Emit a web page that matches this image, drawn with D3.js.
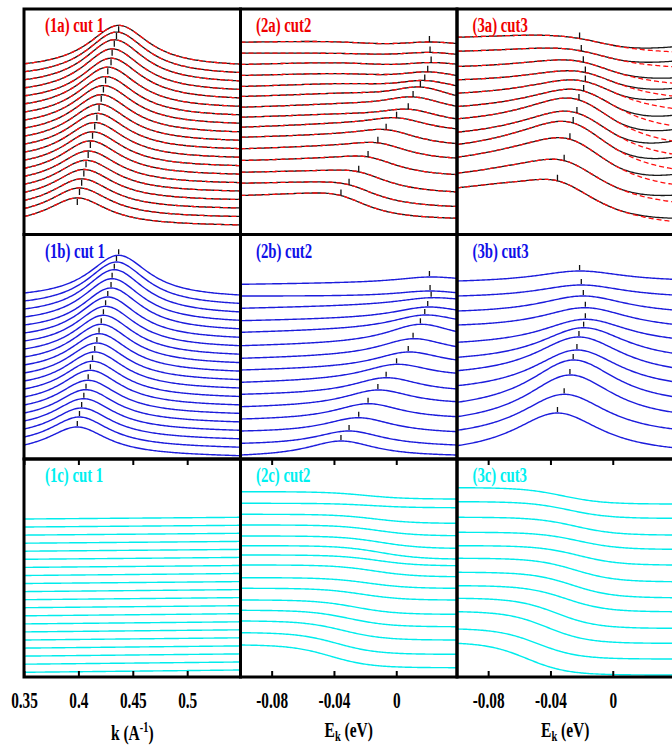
<!DOCTYPE html>
<html>
<head>
<meta charset="utf-8">
<script src="https://cdn.jsdelivr.net/npm/d3@7"></script>
<style>
  html, body { margin: 0; padding: 0; background: #fff; }
  svg { display: block; }
</style>
</head>
<body>
<svg id="chart" width="672" height="747"></svg>
<script>
// ---------------- data (bottom curve first in every array) ----------------
// fitted peak positions: k in 1/A for cut 1, E_k in eV for cuts 2 and 3
const cut1Peak = [0.399, 0.401, 0.403, 0.405, 0.407, 0.409, 0.411, 0.413, 0.415, 0.417, 0.419, 0.421, 0.423, 0.425, 0.427, 0.430, 0.431, 0.433, 0.435, 0.437];
const cut2Peak = [-0.0355, -0.0303, -0.0241, -0.0181, -0.0118, -0.0065, 0.0002, 0.0077, 0.0108, 0.0155, 0.0183, 0.0202, 0.0224, 0.0217, 0.0213];
const cut3Peak = [-0.0355, -0.0312, -0.0275, -0.0254, -0.0230, -0.0217, -0.0187, -0.0176, -0.0176, -0.0189, -0.0202, -0.0213];

// peak component (offset stack): intensity at the low edge, at the peak, at the high edge
const cut1CompLow  = [14, 22, 30, 38, 46, 54, 62, 70, 78, 86, 94, 102, 110, 118, 126, 134, 142, 150, 158, 166];
const cut1CompPeak = [32, 42, 51, 60.3, 69.3, 78.7, 88.7, 97.7, 107, 116, 125.3, 134.7, 143.7, 152.7, 162, 171, 180.3, 189.3, 197, 203.7];
const cut1CompHigh = [3.3, 11.8, 20.2, 28.7, 37.1, 45.6, 54.1, 62.5, 71, 79.4, 87.9, 96.4, 104.8, 113.3, 121.7, 130.2, 138.7, 147.1, 155.6, 164];

const cut2CompLow  = [4, 15.7, 28, 40, 52.3, 64.7, 76.7, 89, 100.7, 113.3, 126.7, 138.3, 150.7, 163, 174.7];
const cut2CompPeak = [18, 28, 41.3, 55.3, 69, 81.3, 94.7, 107, 120.3, 134.7, 144, 152, 161.3, 168, 182];
const cut2CompHigh = [4, 14, 27.3, 42.3, 57.3, 70, 85.7, 99, 112.3, 127.3, 139.7, 149, 160, 166.3, 180.7];

const cut3CompLow  = [13.3, 28.7, 42.3, 56.7, 73.3, 88.3, 101.7, 116.7, 134, 148, 163, 178];
const cut3CompPeak = [46, 64.7, 84, 99, 109, 122, 131.3, 139.7, 151.3, 163, 174, 188];
const cut3CompHigh = [11.3, 30, 46.7, 62.3, 77.3, 91.3, 105.7, 120.7, 134.7, 149, 164, 179.7];

// background component (offset stack): intensity at the low and high edges
const cut1BgLow  = [4.7, 12.8, 20.9, 28.9, 37, 45.1, 53.1, 61.2, 69.3, 77.3, 85.4, 93.5, 101.5, 109.6, 117.7, 125.8, 133.8, 141.9, 150, 158];
const cut1BgHigh = [7, 15, 23.1, 31.1, 39.2, 47.2, 55.2, 63.3, 71.3, 79.4, 87.4, 95.4, 103.5, 111.5, 119.6, 127.6, 135.6, 143.7, 151.7, 159.7];

const cut2BgLow  = [32, 44.3, 56, 66.7, 77, 88.7, 99.3, 112, 122, 131.3, 141, 152, 162.7, 173.7, 185.3];
const cut2BgHigh = [9.3, 22.7, 37, 50.3, 62.7, 77, 88.7, 100.3, 111.3, 118, 128.7, 141.3, 153.7, 169.3, 178];
// energy where each background step falls
const cut2BgEdge = [-0.042, -0.038, -0.034, -0.030, -0.026, -0.022, -0.018, -0.014, -0.012, -0.010, -0.010, -0.012, -0.014, -0.016, -0.020];

const cut3BgLow  = [33.7, 48, 65.3, 78.7, 91.3, 104.7, 118.7, 131.3, 144.7, 159.7, 175.3, 189.3];
const cut3BgHigh = [2, 18, 33.7, 48.7, 65.3, 79.3, 95.3, 112, 127.7, 142, 158.7, 173];
const cut3BgEdge = [-0.055, -0.048, -0.042, -0.036, -0.030, -0.026, -0.024, -0.022, -0.022, -0.024, -0.028, -0.032];

// full fit (offset stack): intensity at the low edge
const cut1FitLow = [18, 26, 34.1, 42.1, 50.2, 58.2, 66.2, 74.3, 82.3, 90.4, 98.4, 106.4, 114.5, 122.5, 130.6, 138.6, 146.6, 154.7, 162.7, 170.7];
const cut2FitLow = [39, 51.3, 62.3, 74, 85.7, 97.3, 107.3, 117.3, 127.3, 138, 148, 159, 170, 181.3, 192.3];
const cut3FitLow = [46.7, 61.3, 77.3, 90, 102.3, 115.7, 128, 141.3, 154.7, 168, 183.3, 197.3];

// cut 3 data above the fit at the high-energy edge
const cut3DataExcess = [3.3, 6.7, 10, 11.7, 13.3, 11.7, 10.7, 10.7, 7.7, 5.3, 5.7, 5];

// axis ticks
const kTicks = [0.35, 0.4, 0.45, 0.5];
const eTicks = [-0.08, -0.04, 0];

// panel titles, [cut][row]
const panelTitles = [
  ["(1a) cut 1", "(1b) cut 1", "(1c) cut 1"],
  ["(2a) cut2", "(2b) cut2", "(2c) cut2"],
  ["(3a) cut3", "(3b) cut3", "(3c) cut3"]
];

// ---------------- layout ----------------
const colX = [24, 240.5, 457, 673.5];
const rowY = [9, 234.5, 459, 677];
const titleColors = ["#f00000", "#1010e8", "#00f0f0"];
const serif = "'Liberation Serif', 'Times New Roman', serif";
const squeeze = 0.72;

// ---------------- line shapes ----------------
function lorentz(x, x0, g) { const d = (x - x0) / g; return 1 / (1 + d * d); }

// linear baseline + Lorentzian at xp, passing through the three read intensities
function peakCurve(xL, xR, xp, g, yL, yP, yR) {
  const LL = lorentz(xL, xp, g), LR = lorentz(xR, xp, g);
  const t = (xp - xL) / (xR - xL);
  const A = (yP - (yL + t * (yR - yL))) / (1 - LL + t * (LL - LR));
  const a = yL - A * LL;
  const B = yR - yL + A * (LL - LR);
  return x => a + B * (x - xL) / (xR - xL) + A * lorentz(x, xp, g);
}

// background: straight (momentum cut) or a smooth step (energy cuts)
function bgCurve(xL, xR, yL, yR, edge, w) {
  if (edge == null) return x => yL + (yR - yL) * (x - xL) / (xR - xL);
  const s = x => 1 / (1 + Math.exp(-(x - edge) / w));
  const sL = s(xL), sR = s(xR);
  return x => yL + (yR - yL) * (s(x) - sL) / (sR - sL);
}

const cuts = [
  { peak: cut1Peak, compLow: cut1CompLow, compPeak: cut1CompPeak, compHigh: cut1CompHigh,
    bgLow: cut1BgLow, bgHigh: cut1BgHigh, bgEdge: null, fitLow: cut1FitLow, excess: null,
    width: 0.034, stepW: 0, domain: [0.35, 0.549], ticks: kTicks, tickBelow: true },
  { peak: cut2Peak, compLow: cut2CompLow, compPeak: cut2CompPeak, compHigh: cut2CompHigh,
    bgLow: cut2BgLow, bgHigh: cut2BgHigh, bgEdge: cut2BgEdge, fitLow: cut2FitLow, excess: null,
    width: 0.027, stepW: 0.013, domain: [-0.1, 0.039], ticks: eTicks, tickBelow: false },
  { peak: cut3Peak, compLow: cut3CompLow, compPeak: cut3CompPeak, compHigh: cut3CompHigh,
    bgLow: cut3BgLow, bgHigh: cut3BgHigh, bgEdge: cut3BgEdge, fitLow: cut3FitLow, excess: cut3DataExcess,
    width: 0.035, stepW: 0.013, domain: [-0.1, 0.039], ticks: eTicks, tickBelow: false }
];

const svg = d3.select("#chart");
const defs = svg.append("defs");

cuts.forEach((cut, c) => {
  const [xL, xR] = cut.domain;
  const x = d3.scaleLinear().domain(cut.domain).range([colX[c], colX[c + 1]]);
  const grid = d3.range(161).map(j => xL + (xR - xL) * j / 160);

  const comp = cut.peak.map((p, i) => peakCurve(xL, xR, p, cut.width, cut.compLow[i], cut.compPeak[i], cut.compHigh[i]));
  const bg = cut.peak.map((p, i) => bgCurve(xL, xR, cut.bgLow[i], cut.bgHigh[i], cut.bgEdge ? cut.bgEdge[i] : null, cut.stepW));
  const fit = cut.peak.map((p, i) => v => cut.fitLow[i] + comp[i](v) - cut.compLow[i] + bg[i](v) - cut.bgLow[i]);
  const x0 = 0.002;
  const data = cut.peak.map((p, i) => v => {
    let r = 0;
    if (cut.excess && v > x0) r = cut.excess[i] * Math.pow((v - x0) / (xR - x0), 1.5);
    return fit[i](v) + r;
  });

  for (let r = 0; r < 3; r++) {
    const top = rowY[r], bottom = rowY[r + 1];
    const y = d3.scaleLinear().domain([0, bottom - top]).range([bottom, top]);
    const id = `clip-${c}-${r}`;
    defs.append("clipPath").attr("id", id).append("rect")
      .attr("x", colX[c]).attr("y", top).attr("width", colX[c + 1] - colX[c]).attr("height", bottom - top);
    const g = svg.append("g").attr("clip-path", `url(#${id})`);
    const line = f => d3.line().x(v => x(v)).y(v => y(f(v)))(grid);

    if (r === 0) {
      g.selectAll("path.data").data(data).join("path").attr("class", "data")
        .attr("d", f => line(f)).attr("fill", "none").attr("stroke", "#1a1a1a").attr("stroke-width", 1.3);
      g.selectAll("path.fit").data(fit).join("path").attr("class", "fit")
        .attr("d", f => line(f)).attr("fill", "none").attr("stroke", "#ff1010")
        .attr("stroke-width", 1.3).attr("stroke-dasharray", "5,3");
      g.selectAll("line.pk").data(cut.peak).join("line").attr("class", "pk")
        .attr("x1", (p) => x(p)).attr("x2", (p) => x(p))
        .attr("y1", (p, i) => y(fit[i](p)) + (cut.tickBelow ? 1 : -6))
        .attr("y2", (p, i) => y(fit[i](p)) + (cut.tickBelow ? 7 : 0))
        .attr("stroke", "#111").attr("stroke-width", 1.3);
    } else if (r === 1) {
      g.selectAll("path.comp").data(comp).join("path").attr("class", "comp")
        .attr("d", f => line(f)).attr("fill", "none").attr("stroke", "#1c1cdc").attr("stroke-width", 1.4);
      g.selectAll("line.pk").data(cut.peak).join("line").attr("class", "pk")
        .attr("x1", (p) => x(p)).attr("x2", (p) => x(p))
        .attr("y1", (p, i) => y(comp[i](p)) - 6)
        .attr("y2", (p, i) => y(comp[i](p)) - 1)
        .attr("stroke", "#111").attr("stroke-width", 1.3);
    } else {
      g.selectAll("path.bg").data(bg).join("path").attr("class", "bg")
        .attr("d", f => line(f)).attr("fill", "none").attr("stroke", "#00ecec").attr("stroke-width", 1.4);
    }

    // panel title
    svg.append("text")
      .attr("transform", `translate(${colX[c] + (c === 0 ? 21 : 15.5)},${top + 23}) scale(${squeeze},1)`)
      .attr("font-family", serif).attr("font-weight", "bold").attr("font-size", 20.5)
      .attr("fill", titleColors[r])
      .text(panelTitles[c][r]);
  }

  // ticks on the bottom row: labelled below, plain along the top edge
  const axB = svg.append("g").attr("transform", `translate(0,${rowY[3]})`)
    .call(d3.axisBottom(x).tickValues(cut.ticks).tickSize(-6).tickPadding(15).tickFormat(d => String(d)));
  const axT = svg.append("g").attr("transform", `translate(0,${rowY[2]})`)
    .call(d3.axisTop(x).tickValues(cut.ticks).tickSize(-6).tickFormat(""));
  [axB, axT].forEach(a => {
    a.select(".domain").remove();
    a.selectAll(".tick line").attr("stroke", "#000").attr("stroke-width", 2);
  });
  axB.selectAll(".tick text").attr("fill", "#000")
    .attr("font-family", serif).attr("font-weight", "bold").attr("font-size", 22.5)
    .attr("transform", `scale(0.68,1)`);
  axT.selectAll(".tick text").remove();

  // axis title
  const cx = (colX[c] + colX[c + 1]) / 2;
  const t = svg.append("text").attr("text-anchor", "middle")
    .attr("transform", `translate(${cx},${c === 0 ? 740 : 737}) scale(0.74,1)`)
    .attr("font-family", serif).attr("font-weight", "bold").attr("font-size", 21).attr("fill", "#000");
  if (c === 0) {
    t.append("tspan").text("k (A");
    t.append("tspan").attr("dy", -8).attr("font-size", 14).text("-1");
    t.append("tspan").attr("dy", 8).text(")");
  } else {
    t.append("tspan").text("E");
    t.append("tspan").attr("dy", 4).attr("font-size", 14).text("k");
    t.append("tspan").attr("dy", -4).text(" (eV)");
  }
});

// panel frames
for (let c = 0; c < 3; c++) {
  for (let r = 0; r < 3; r++) {
    svg.append("rect")
      .attr("x", colX[c]).attr("y", rowY[r])
      .attr("width", colX[c + 1] - colX[c]).attr("height", rowY[r + 1] - rowY[r])
      .attr("fill", "none").attr("stroke", "#000").attr("stroke-width", 3);
  }
}
</script>
</body>
</html>
